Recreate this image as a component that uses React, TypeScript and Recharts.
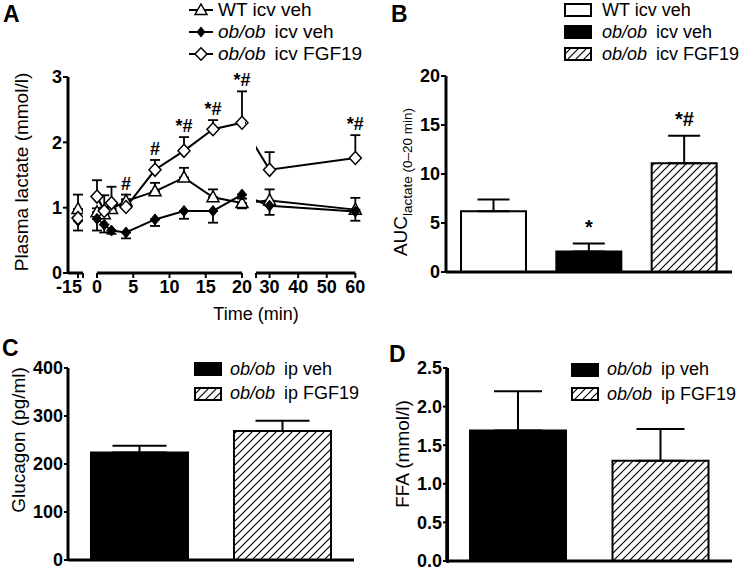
import React from 'react';
import {
  ComposedChart,
  BarChart,
  Line,
  Bar,
  Cell,
  XAxis,
  YAxis,
  ErrorBar,
  LabelList,
  ReferenceLine,
} from 'recharts';

const FONT = '"Liberation Sans", Arial, Helvetica, sans-serif';

// ---------- Panel A: plasma lactate time course ----------
const timeMin = [-15, 0, 1, 2, 4, 8, 12, 16, 20, 30, 60];
const wtVeh = [0.98, 0.93, 0.9, 0.98, 1.1, 1.25, 1.46, 1.16, 1.07, 1.11, 0.97];
const wtVehSem = [0.22, 0.06, 0.1, 0.1, 0.1, 0.13, 0.15, 0.12, 0.07, 0.17, 0.18];
const obVeh = [0.8, 0.83, 0.74, 0.65, 0.62, 0.82, 0.95, 0.95, 1.2, 1.03, 0.94];
const obVehSem = [0.15, 0.18, 0.12, 0.05, 0.09, 0.1, 0.12, 0.18, 0.21, 0.14, 0.14];
const obFgf = [0.84, 1.17, 0.95, 1.07, 1.01, 1.58, 1.87, 2.2, 2.3, 1.58, 1.76];
const obFgfSem = [0.1, 0.25, 0.24, 0.25, 0.12, 0.15, 0.21, 0.14, 0.48, 0.27, 0.35];
const sigA = ['', '', '', '', '#', '#', '*#', '*#', '*#', '', '*#'];
const yTicksA = [0, 1, 2, 3];
const xTicksPre = [-15, -14];
const xTicksEarly = [0, 5, 10, 15, 20];
const lateStart = 25.26;
const xTicksLate = [lateStart, 30, 40, 50, 60];

// ---------- Panel B: AUC ----------
const aucGroups = ['WT icv veh', 'ob/ob icv veh', 'ob/ob icv FGF19'];
const aucMean = [6.2, 2.1, 11.1];
const aucSem = [1.2, 0.8, 2.8];
const aucSig = ['', '*', '*#'];
const yTicksB = [0, 5, 10, 15, 20];

// ---------- Panel C: glucagon ----------
const ipGroups = ['ob/ob ip veh', 'ob/ob ip FGF19'];
const glucMean = [224, 269];
const glucSem = [14, 21];
const yTicksC = [0, 100, 200, 300, 400];

// ---------- Panel D: FFA ----------
const ffaMean = [1.69, 1.3];
const ffaSem = [0.51, 0.41];
const yTicksD = [0, 0.5, 1, 1.5, 2, 2.5];

const rowsA = timeMin.map((t, i) => ({
  t,
  wt: wtVeh[i],
  wtErr: [0, wtVehSem[i]],
  ob: obVeh[i],
  obErr: [obVehSem[i], 0],
  fgf: obFgf[i],
  fgfErr: [0, obFgfSem[i]],
  sigY: Math.max(wtVeh[i] + wtVehSem[i], obFgf[i] + obFgfSem[i]),
  sig: sigA[i],
}));
const segPre = rowsA.filter((r) => r.t < 0);
const segEarly = rowsA.filter((r) => r.t >= 0 && r.t <= 20);
const segLate = rowsA.filter((r) => r.t >= 20).map((r) => (r.t === 20 ? { ...r, sig: '' } : r));

const rowsB = aucGroups.map((g, i) => ({ g, v: aucMean[i], err: [0, aucSem[i]], sigY: aucMean[i] + aucSem[i], sig: aucSig[i] }));
const rowsC = ipGroups.map((g, i) => ({ g, v: glucMean[i], err: [0, glucSem[i]] }));
const rowsD = ipGroups.map((g, i) => ({ g, v: ffaMean[i], err: [0, ffaSem[i]] }));

const fillsB = ['#fff', '#000', 'url(#hatchB)'];
const fillsC = ['#000', 'url(#hatchC)'];
const fillsD = ['#000', 'url(#hatchD)'];

const TICK_FS = 18;
const axisLine = { stroke: '#000', strokeWidth: 3 };
const tickLine = { stroke: '#000', strokeWidth: 2 };
const tickFont = { fill: '#000', fontSize: TICK_FS, fontWeight: 700, fontFamily: FONT };

const xTick = (fmt: (v: number) => string, dx = 0) => (p: any) => (
  <text
    key={`xt-${p.index}-${p.payload.value}`}
    x={p.x + dx}
    y={p.y}
    dy="0.71em"
    textAnchor="middle"
    fill="#000"
    fontSize={TICK_FS}
    fontWeight={700}
    fontFamily={FONT}
  >
    {fmt(p.payload.value)}
  </text>
);

// y tick for panel D: draws its own tick mark plus a one-decimal label
const yTickD = (p: any) => (
  <g key={`ytd-${p.index}-${p.payload.value}`}>
    <line x1={p.x + 1} y1={p.y} x2={p.x + 5.5} y2={p.y} stroke="#000" strokeWidth={2} />
    <text
      x={p.x}
      y={p.y}
      dy="0.355em"
      textAnchor="end"
      fill="#000"
      fontSize={TICK_FS}
      fontWeight={700}
      fontFamily={FONT}
    >
      {Number(p.payload.value).toFixed(1)}
    </text>
  </g>
);

const triDot = (p: any) => {
  const { cx, cy, index } = p;
  if (cx == null || cy == null) return <g key={`tri-${index}`} />;
  return (
    <polygon
      key={`tri-${index}`}
      points={`${cx},${cy - 6.5} ${cx + 6},${cy + 4.5} ${cx - 6},${cy + 4.5}`}
      fill="#fff"
      stroke="#000"
      strokeWidth={1.5}
    />
  );
};
const diaOpenDot = (p: any) => {
  const { cx, cy, index } = p;
  if (cx == null || cy == null) return <g key={`dio-${index}`} />;
  return (
    <polygon
      key={`dio-${index}`}
      points={`${cx},${cy - 6.5} ${cx + 6},${cy} ${cx},${cy + 6.5} ${cx - 6},${cy}`}
      fill="#fff"
      stroke="#000"
      strokeWidth={1.5}
    />
  );
};
const diaFillDot = (p: any) => {
  const { cx, cy, index } = p;
  if (cx == null || cy == null) return <g key={`dif-${index}`} />;
  return (
    <polygon
      key={`dif-${index}`}
      points={`${cx},${cy - 5.5} ${cx + 4.5},${cy} ${cx},${cy + 5.5} ${cx - 4.5},${cy}`}
      fill="#000"
      stroke="#000"
      strokeWidth={1}
    />
  );
};

const sigStyle = { fill: '#000', fontSize: 18, fontWeight: 700, fontFamily: FONT };

const seriesA = (withSig: boolean) => [
  <Line key="wt" dataKey="wt" stroke="#000" strokeWidth={2} dot={triDot} activeDot={false} isAnimationActive={false}>
    <ErrorBar dataKey="wtErr" direction="y" width={5} stroke="#000" strokeWidth={1.8} />
  </Line>,
  <Line key="ob" dataKey="ob" stroke="#000" strokeWidth={2} dot={diaFillDot} activeDot={false} isAnimationActive={false}>
    <ErrorBar dataKey="obErr" direction="y" width={5} stroke="#000" strokeWidth={1.8} />
  </Line>,
  <Line key="fgf" dataKey="fgf" stroke="#000" strokeWidth={2} dot={diaOpenDot} activeDot={false} isAnimationActive={false}>
    <ErrorBar dataKey="fgfErr" direction="y" width={5} stroke="#000" strokeWidth={1.8} />
  </Line>,
  withSig ? (
    <Line key="sig" dataKey="sigY" stroke="none" dot={false} activeDot={false} isAnimationActive={false}>
      <LabelList dataKey="sig" position="top" offset={5} style={sigStyle} />
    </Line>
  ) : null,
];

const Hatch = ({ id }: { id: string }) => (
  <defs>
    <pattern id={id} patternUnits="userSpaceOnUse" width={8} height={8}>
      <rect width={8} height={8} fill="#fff" />
      <path d="M-2,2 L2,-2 M0,8 L8,0 M6,10 L10,6" stroke="#000" strokeWidth={1.2} />
    </pattern>
  </defs>
);

const Rot = ({ cx, cy, size, children }: any) => (
  <div
    style={{
      position: 'absolute',
      left: cx,
      top: cy,
      transform: 'translate(-50%, -50%) rotate(-90deg)',
      whiteSpace: 'nowrap',
      fontSize: size,
      fontFamily: FONT,
      lineHeight: 1,
      color: '#000',
    }}
  >
    {children}
  </div>
);

const Letter = ({ x, y, children }: any) => (
  <div style={{ position: 'absolute', left: x, top: y, fontSize: 23, fontWeight: 700, fontFamily: FONT, lineHeight: 1 }}>
    {children}
  </div>
);

const GroupLabel = ({ label }: { label: string }) => {
  if (label.startsWith('ob/ob')) {
    return (
      <span>
        <i>ob/ob</i>
        <span style={{ marginLeft: 9 }}>{label.slice(6)}</span>
      </span>
    );
  }
  return <span>{label}</span>;
};

const LineSym = ({ kind }: { kind: number }) => (
  <svg width={26} height={14} style={{ display: 'block' }}>
    <line x1={1} y1={7} x2={25} y2={7} stroke="#000" strokeWidth={2} />
    {kind === 0 && <polygon points="13,1 19,11.5 7,11.5" fill="#fff" stroke="#000" strokeWidth={1.5} />}
    {kind === 1 && <polygon points="13,1.5 17.5,7 13,12.5 8.5,7" fill="#000" />}
    {kind === 2 && <polygon points="13,0.8 19,7 13,13.2 7,7" fill="#fff" stroke="#000" strokeWidth={1.5} />}
  </svg>
);

const BoxSym = ({ fill, id }: { fill: string; id: string }) => (
  <svg width={28} height={14} style={{ display: 'block' }}>
    <Hatch id={id} />
    <rect x={1} y={1} width={26} height={12} fill={fill === 'hatch' ? `url(#${id})` : fill} stroke="#000" strokeWidth={2} />
  </svg>
);

const LegendBlock = ({ x, y, rowH, items, size }: any) => (
  <div style={{ position: 'absolute', left: x, top: y, fontFamily: FONT, fontSize: size, color: '#000' }}>
    {items.map((it: any, i: number) => (
      <div key={i} style={{ height: rowH, display: 'flex', alignItems: 'center' }}>
        {it.sym}
        <div style={{ marginLeft: it.gap, whiteSpace: 'nowrap' }}>
          <GroupLabel label={it.label} />
        </div>
      </div>
    ))}
  </div>
);

const aTop = 77;
const aAxisH = 27;

export default function App() {
  return (
    <div
      style={{
        position: 'absolute',
        left: 0,
        top: 0,
        width: 739,
        height: 570,
        background: '#fff',
        overflow: 'hidden',
        fontFamily: FONT,
      }}
    >
      {/* Panel A segment: -15 */}
      <div style={{ position: 'absolute', left: 0, top: 0 }}>
        <ComposedChart width={95} height={300} data={segPre} margin={{ top: aTop, right: 12, bottom: 0, left: 0 }}>
          <XAxis
            dataKey="t"
            type="number"
            domain={[-17, -14]}
            ticks={xTicksPre}
            interval={0}
            allowDataOverflow
            height={aAxisH}
            axisLine={axisLine}
            tickLine={tickLine}
            tickSize={5}
            tick={xTick((v) => (v === -15 ? '-15' : ''), -9)}
          />
          <YAxis
            domain={[0, 3]}
            ticks={yTicksA}
            interval={0}
            width={68}
            axisLine={axisLine}
            tickLine={tickLine}
            tickSize={5}
            tickMargin={1}
            tick={tickFont}
          />
          {seriesA(false)}
        </ComposedChart>
      </div>
      {/* Panel A segment: 0-20 */}
      <div style={{ position: 'absolute', left: 85, top: 0 }}>
        <ComposedChart width={175} height={300} data={segEarly} margin={{ top: aTop, right: 18, bottom: 0, left: 12 }}>
          <XAxis
            dataKey="t"
            type="number"
            domain={[0, 20]}
            ticks={xTicksEarly}
            interval={0}
            height={aAxisH}
            axisLine={axisLine}
            tickLine={tickLine}
            tickSize={5}
            tick={xTick((v) => String(v))}
          />
          <YAxis hide domain={[0, 3]} />
          {seriesA(true)}
        </ComposedChart>
      </div>
      {/* Panel A segment: 30-60 */}
      <div style={{ position: 'absolute', left: 245, top: 0 }}>
        <ComposedChart width={125} height={300} data={segLate} margin={{ top: aTop, right: 5, bottom: 0, left: 11 }}>
          <XAxis
            dataKey="t"
            type="number"
            domain={[lateStart, 63.38]}
            ticks={xTicksLate}
            interval={0}
            allowDataOverflow
            height={aAxisH}
            axisLine={false}
            tickLine={tickLine}
            tickSize={5}
            tick={xTick((v) => (v >= 30 ? String(v) : ''))}
          />
          <YAxis hide domain={[0, 3]} />
          <ReferenceLine
            segment={[
              { x: lateStart, y: 0 },
              { x: 60, y: 0 },
            ]}
            stroke="#000"
            strokeWidth={3}
            ifOverflow="visible"
          />
          {seriesA(true)}
        </ComposedChart>
      </div>

      {/* Panel B */}
      <div style={{ position: 'absolute', left: 370, top: 0 }}>
        <ComposedChart width={369} height={300} data={rowsB} margin={{ top: 76, right: 7, bottom: 27, left: 0 }}>
          <Hatch id="hatchB" />
          <XAxis dataKey="g" type="category" height={1} tick={false} tickLine={false} axisLine={axisLine} />
          <YAxis
            domain={[0, 20]}
            ticks={yTicksB}
            interval={0}
            width={76}
            axisLine={axisLine}
            tickLine={tickLine}
            tickSize={5}
            tickMargin={1}
            tick={tickFont}
          />
          <Bar dataKey="v" barSize={65} stroke="#000" strokeWidth={2} isAnimationActive={false}>
            {rowsB.map((r, i) => (
              <Cell key={r.g} fill={fillsB[i]} />
            ))}
            <ErrorBar dataKey="err" direction="y" width={16} stroke="#000" strokeWidth={2} />
          </Bar>
          <Line dataKey="sigY" stroke="none" dot={false} activeDot={false} isAnimationActive={false}>
            <LabelList dataKey="sig" position="top" offset={10} style={{ ...sigStyle, fontSize: 20 }} />
          </Line>
        </ComposedChart>
      </div>

      {/* Panel C */}
      <div style={{ position: 'absolute', left: 0, top: 300 }}>
        <ComposedChart width={370} height={270} data={rowsC} margin={{ top: 68, right: 16, bottom: 9, left: 0 }}>
          <Hatch id="hatchC" />
          <XAxis dataKey="g" type="category" height={1} tick={false} tickLine={false} axisLine={axisLine} />
          <YAxis
            domain={[0, 400]}
            ticks={yTicksC}
            interval={0}
            width={68}
            axisLine={axisLine}
            tickLine={tickLine}
            tickSize={4}
            tickMargin={1}
            tick={tickFont}
          />
          <Bar dataKey="v" barSize={97} stroke="#000" strokeWidth={2} isAnimationActive={false}>
            {rowsC.map((r, i) => (
              <Cell key={r.g} fill={fillsC[i]} />
            ))}
            <ErrorBar dataKey="err" direction="y" width={27} stroke="#000" strokeWidth={2} />
          </Bar>
        </ComposedChart>
      </div>

      {/* Panel D */}
      <div style={{ position: 'absolute', left: 370, top: 300 }}>
        <BarChart width={369} height={270} data={rowsD} margin={{ top: 68, right: 7, bottom: 8, left: 1 }}>
          <Hatch id="hatchD" />
          <XAxis dataKey="g" type="category" height={1} tick={false} tickLine={false} axisLine={axisLine} />
          <YAxis
            domain={[0, 2.5]}
            ticks={yTicksD}
            interval={0}
            width={76}
            axisLine={axisLine}
            tickLine={false}
            tickSize={4}
            tickMargin={1}
            tick={yTickD}
          />
          <ReferenceLine x={ipGroups[0]} position="start" stroke="#000" strokeWidth={3} ifOverflow="visible" />
          <Bar dataKey="v" barSize={96} stroke="#000" strokeWidth={2} isAnimationActive={false}>
            {rowsD.map((r, i) => (
              <Cell key={r.g} fill={fillsD[i]} />
            ))}
            <ErrorBar dataKey="err" direction="y" width={24} stroke="#000" strokeWidth={2} />
          </Bar>
        </BarChart>
      </div>
      {/* fallback rule for panel D's vertical axis (coincides with the axis line) */}
      <div style={{ position: 'absolute', left: 445.5, top: 368, width: 3, height: 194.5, background: '#000' }} />

      {/* Axis titles */}
      <Rot cx={21} cy={172} size={19}>Plasma lactate (mmol/l)</Rot>
      <div
        style={{
          position: 'absolute',
          left: 256,
          top: 314,
          transform: 'translate(-50%, -50%)',
          fontSize: 18,
          fontFamily: FONT,
          whiteSpace: 'nowrap',
          lineHeight: 1,
        }}
      >
        Time (min)
      </div>
      <Rot cx={403} cy={182} size={19}>
        AUC
        <sub style={{ fontSize: 13.5, verticalAlign: 'sub' }}>lactate (0–20 min)</sub>
      </Rot>
      <Rot cx={18} cy={440} size={19}>Glucagon (pg/ml)</Rot>
      <Rot cx={402} cy={454} size={19}>FFA (mmol/l)</Rot>

      {/* Panel letters */}
      <Letter x={3} y={3}>A</Letter>
      <Letter x={391} y={3}>B</Letter>
      <Letter x={2} y={337}>C</Letter>
      <Letter x={389} y={343}>D</Letter>

      {/* Legends */}
      <LegendBlock
        x={188}
        y={-1}
        rowH={22}
        size={19}
        items={[
          { sym: <LineSym kind={0} />, label: aucGroups[0], gap: 4 },
          { sym: <LineSym kind={1} />, label: aucGroups[1], gap: 4 },
          { sym: <LineSym kind={2} />, label: aucGroups[2], gap: 4 },
        ]}
      />
      <LegendBlock
        x={564}
        y={-1}
        rowH={22}
        size={18}
        items={[
          { sym: <BoxSym fill="#fff" id="lgB0" />, label: aucGroups[0], gap: 10 },
          { sym: <BoxSym fill="#000" id="lgB1" />, label: aucGroups[1], gap: 10 },
          { sym: <BoxSym fill="hatch" id="lgB2" />, label: aucGroups[2], gap: 10 },
        ]}
      />
      <LegendBlock
        x={194}
        y={357}
        rowH={24.5}
        size={18}
        items={[
          { sym: <BoxSym fill="#000" id="lgC0" />, label: ipGroups[0], gap: 8 },
          { sym: <BoxSym fill="hatch" id="lgC1" />, label: ipGroups[1], gap: 8 },
        ]}
      />
      <LegendBlock
        x={571}
        y={357.5}
        rowH={24.5}
        size={18}
        items={[
          { sym: <BoxSym fill="#000" id="lgD0" />, label: ipGroups[0], gap: 8 },
          { sym: <BoxSym fill="hatch" id="lgD1" />, label: ipGroups[1], gap: 8 },
        ]}
      />
    </div>
  );
}
